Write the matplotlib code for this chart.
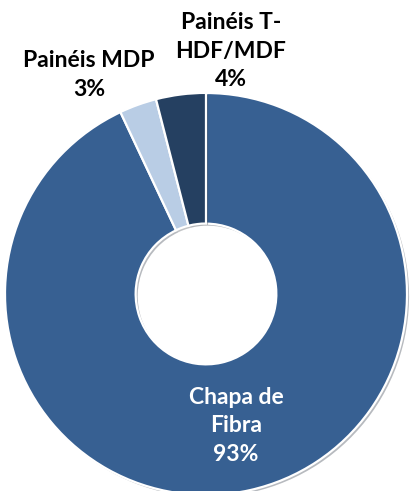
import matplotlib.pyplot as plt
import matplotlib.patheffects as pe

plt.rcParams['font.family'] = ['Lato', 'DejaVu Sans']

categorias = ['Chapa de Fibra', 'Painéis MDP', 'Painéis T-HDF/MDF']
valores = [93, 3, 4]
rotulos = ['Chapa de\nFibra\n93%', 'Painéis MDP\n3%', 'Painéis T-\nHDF/MDF\n4%']
cores = ['#376092', '#B9CDE5', '#254061']
afastar = [0, 0.095, 0.1]

W, H = 413, 491
fig = plt.figure(figsize=(W / 100, H / 100), dpi=100)
ax = fig.add_axes([0, 0, 1, 1])

cx, cy, r = 206, H - 294, 201
wedges, _ = ax.pie(valores, colors=cores, startangle=90, counterclock=False,
                   explode=afastar, center=(cx, cy), radius=r,
                   wedgeprops=dict(width=r * 0.65, linewidth=1.6, edgecolor='white'))
# sombra leve nas fatias
for w in wedges:
    w.set_path_effects([pe.SimplePatchShadow(offset=(1.5, -1.5), alpha=0.3), pe.Normal()])
ax.set_xlim(0, W)
ax.set_ylim(0, H)
ax.set_aspect('equal')
ax.axis('off')

# posições dos rótulos (pixels a partir do topo)
pos = [(236, 426), (89, 75), (231, 51)]
txtcor = ['white', 'black', 'black']
for lab, (x, y), c in zip(rotulos, pos, txtcor):
    ax.text(x, H - y, lab, ha='center', va='center', color=c,
            fontsize=16.5, fontweight='bold', linespacing=1.45)

fig.savefig('out.png', dpi=100)
